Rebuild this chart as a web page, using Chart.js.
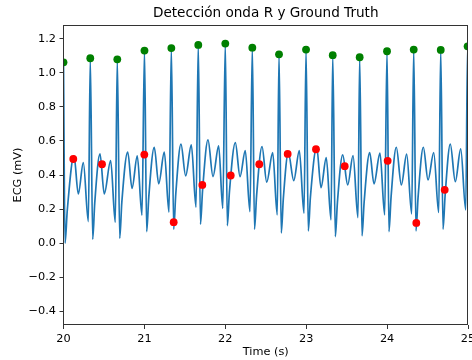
<!DOCTYPE html>
<html>
<head>
<meta charset="utf-8">
<title>Detección onda R y Ground Truth</title>
<script src="https://cdn.jsdelivr.net/npm/chart.js@4.4.1/dist/chart.umd.min.js"></script>
<style>
  html, body { margin: 0; padding: 0; background: #ffffff; }
  #wrap { width: 472px; height: 360px; }
</style>
</head>
<body>
<div id="wrap"><canvas id="ecg" width="472" height="360"></canvas></div>
<script>
// ECG trace, one row per beat: R, S, upstroke, T1, dip, T2, Q
const ecgTime = [
  20.000, 20.019, 20.047, 20.130, 20.183, 20.245, 20.307,
  20.331, 20.361, 20.386, 20.451, 20.504, 20.583, 20.640,
  20.665, 20.695, 20.721, 20.794, 20.847, 20.912, 20.970,
  21.001, 21.028, 21.054, 21.122, 21.177, 21.246, 21.304,
  21.333, 21.362, 21.388, 21.452, 21.510, 21.580, 21.638,
  21.666, 21.693, 21.719, 21.786, 21.848, 21.918, 21.969,
  22.000, 22.025, 22.051, 22.124, 22.182, 22.247, 22.305,
  22.334, 22.361, 22.387, 22.454, 22.512, 22.586, 22.642,
  22.664, 22.692, 22.717, 22.779, 22.846, 22.915, 22.973,
  22.998, 23.026, 23.052, 23.130, 23.183, 23.248, 23.307,
  23.328, 23.360, 23.386, 23.451, 23.513, 23.579, 23.640,
  23.661, 23.690, 23.716, 23.785, 23.838, 23.912, 23.970,
  23.999, 24.023, 24.049, 24.114, 24.176, 24.242, 24.304,
  24.329, 24.357, 24.383, 24.448, 24.506, 24.576, 24.638,
  24.663, 24.691, 24.717, 24.781, 24.843, 24.910, 24.972,
  24.995, 25.022
];
const ecgValue = [
  1.061, 0.000, 0.195, 0.512, 0.289, 0.473, 0.127,
  1.085, 0.023, 0.235, 0.524, 0.289, 0.485, 0.123,
  1.079, 0.029, 0.240, 0.535, 0.322, 0.512, 0.164,
  1.130, 0.068, 0.270, 0.563, 0.348, 0.534, 0.182,
  1.145, 0.082, 0.290, 0.581, 0.395, 0.577, 0.211,
  1.163, 0.111, 0.310, 0.606, 0.391, 0.571, 0.204,
  1.171, 0.103, 0.300, 0.590, 0.391, 0.543, 0.185,
  1.147, 0.082, 0.280, 0.567, 0.358, 0.531, 0.166,
  1.108, 0.060, 0.260, 0.531, 0.367, 0.543, 0.176,
  1.136, 0.072, 0.270, 0.563, 0.326, 0.502, 0.137,
  1.103, 0.039, 0.240, 0.518, 0.342, 0.514, 0.150,
  1.091, 0.043, 0.240, 0.531, 0.348, 0.528, 0.166,
  1.126, 0.068, 0.270, 0.563, 0.342, 0.522, 0.172,
  1.136, 0.072, 0.270, 0.563, 0.371, 0.531, 0.180,
  1.134, 0.082, 0.280, 0.581, 0.361, 0.553, 0.195,
  1.155, 0.090
];

// Detected R peaks
const rPeakTime  = [20.000, 20.331, 20.665, 21.001, 21.333, 21.666, 22.000, 22.334,
                    22.664, 22.998, 23.328, 23.661, 23.999, 24.329, 24.663, 24.995];
const rPeakValue = [1.061, 1.085, 1.079, 1.130, 1.145, 1.163, 1.171, 1.147,
                    1.108, 1.136, 1.103, 1.091, 1.126, 1.136, 1.134, 1.155];

// Ground-truth annotations
const gtTime  = [20.121, 20.476, 20.999, 21.362, 21.716, 22.067, 22.420,
                 22.771, 23.121, 23.476, 24.007, 24.361, 24.712];
const gtValue = [0.494, 0.463, 0.520, 0.123, 0.342, 0.397, 0.463,
                 0.524, 0.551, 0.452, 0.483, 0.119, 0.313];

// Axis ticks
const xTicks = [20, 21, 22, 23, 24, 25];
const yTicks = [-0.4, -0.2, 0.0, 0.2, 0.4, 0.6, 0.8, 1.0, 1.2];

const toPoints = (xs, ys) => xs.map((x, i) => ({ x: x, y: ys[i] }));
const fmtY = v => (v < 0 ? '\u2212' : '') + Math.abs(v).toFixed(1);

const FONT = "'DejaVu Sans', sans-serif";
const LABEL_SIZE = 11.3;
const TITLE_SIZE = 13.6;

// Box around the plotting area (all four spines)
const frame = {
  id: 'frame',
  afterDraw(chart) {
    const a = chart.chartArea, c = chart.ctx;
    c.save();
    c.strokeStyle = '#333333';
    c.lineWidth = 1;
    c.strokeRect(Math.round(a.left) - 0.5, Math.round(a.top) + 0.5,
                 Math.round(a.right) - Math.round(a.left), Math.round(a.bottom) - Math.round(a.top) - 1);
    c.restore();
  }
};

Chart.defaults.font.family = FONT;
Chart.defaults.color = '#000000';

new Chart(document.getElementById('ecg'), {
  type: 'scatter',
  data: {
    datasets: [
      {
        label: 'Ground Truth',
        data: toPoints(gtTime, gtValue),
        backgroundColor: '#ff0000',
        borderWidth: 0,
        pointRadius: 3.9,
        order: 0,
        clip: 0
      },
      {
        label: 'Onda R',
        data: toPoints(rPeakTime, rPeakValue),
        backgroundColor: '#008000',
        borderWidth: 0,
        pointRadius: 3.9,
        order: 1,
        clip: 0
      },
      {
        label: 'ECG',
        data: toPoints(ecgTime, ecgValue),
        showLine: true,
        borderColor: '#1f77b4',
        borderWidth: 1.7,
        pointRadius: 0,
        cubicInterpolationMode: 'monotone',
        order: 2,
        clip: 0
      }
    ]
  },
  options: {
    responsive: false,
    animation: false,
    devicePixelRatio: 1,
    layout: { padding: { left: 0, right: 4, top: 0, bottom: 0 } },
    plugins: {
      legend: { display: false },
      tooltip: { enabled: false },
      title: {
        display: true,
        text: 'Detección onda R y Ground Truth',
        fullSize: false,
        font: { family: FONT, size: TITLE_SIZE, weight: 'normal', lineHeight: 1.2 },
        color: '#000000',
        padding: { top: 5, bottom: 3.7 }
      }
    },
    scales: {
      x: {
        type: 'linear',
        min: 20,
        max: 25,
        afterFit(s) {
          s.height = 35;
          s.paddingLeft = 0;
          s.paddingRight = 0;
        },
        afterBuildTicks(s) { s.ticks = xTicks.map(v => ({ value: v })); },
        ticks: {
          font: { family: FONT, size: LABEL_SIZE },
          color: '#000000',
          padding: 3.5,
          maxRotation: 0,
          callback: v => String(v)
        },
        grid: {
          drawOnChartArea: false,
          drawTicks: true,
          tickLength: 4,
          color: '#333333'
        },
        border: { display: false },
        title: {
          display: true,
          text: 'Time (s)',
          font: { family: FONT, size: LABEL_SIZE, lineHeight: 1.2 },
          color: '#000000',
          padding: { top: 0, bottom: 0.7 }
        }
      },
      y: {
        type: 'linear',
        min: -0.48,
        max: 1.28,
        afterFit(s) {
          s.width = 63.5;
          s.paddingTop = 0;
          s.paddingBottom = 0;
        },
        afterBuildTicks(s) { s.ticks = yTicks.map(v => ({ value: v })); },
        ticks: {
          font: { family: FONT, size: LABEL_SIZE },
          color: '#000000',
          padding: 3.5,
          callback: v => fmtY(v)
        },
        grid: {
          drawOnChartArea: false,
          drawTicks: true,
          tickLength: 4,
          color: '#333333'
        },
        border: { display: false },
        title: {
          display: true,
          text: 'ECG (mV)',
          font: { family: FONT, size: LABEL_SIZE, lineHeight: 1.2 },
          color: '#000000',
          padding: { top: 10.9, bottom: 0 }
        }
      }
    }
  },
  plugins: [frame]
});
</script>
</body>
</html>
